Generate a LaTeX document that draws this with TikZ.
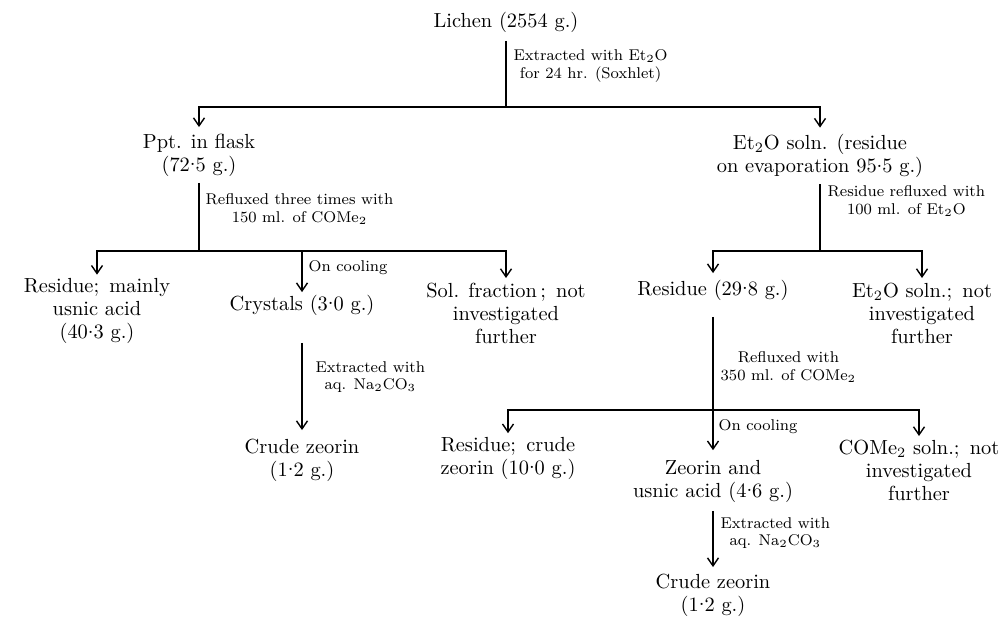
\documentclass[tikz,border=0pt]{standalone}
\usetikzlibrary{arrows.meta}
\tikzset{
  stage/.style={align=center, inner sep=0pt, font=\fontsize{10.2}{11.5}\selectfont},
  note/.style={align=center, inner sep=0pt, anchor=west, font=\fontsize{7.8}{8.6}\selectfont},
  flow/.style={-{Straight Barb[length=4pt,width=5.5pt]}, shorten >=3pt},
}
\newcommand{\sub}[1]{\textsubscript{#1}}
\newcommand{\decpt}{\raisebox{0.6ex}{.}}

\begin{document}
\begin{tikzpicture}[x=0.5pt, y=-0.5pt, line width=0.7pt]
        \useasboundingbox (0,0) rectangle (1004,617);
        % starting material and first split
        \node[stage] (lichen) at (506,22) {Lichen (2554 g.)};
        \node[stage] (ppt) at (199,155) {Ppt. in flask\\(72\decpt5 g.)};
        \node[stage] (ether) at (820,156) {Et\sub{2}O soln. (residue\\on evaporation 95\decpt5 g.)};
        \coordinate (split1) at (506,107);
        \draw[shorten <=4pt] (lichen) -- (split1);
        \draw[flow, shorten >=3pt] (split1) -| (ppt);
        \draw[flow, shorten >=3pt] (split1) -| (ether);
        \node[note] (soxhlet) at (513,66) {Extracted with Et\sub{2}O\\for 24 hr. (Soxhlet)};

        % left branch
        \node[stage] (usnic) at (97,311) {Residue;\enskip mainly\\usnic acid\\(40\decpt3 g.)};
        \node[stage] (cryst) at (302,305) {Crystals (3\decpt0 g.)};
        \node[stage] (solfr) at (506,313) {Sol. fraction\,;\enskip not\\investigated\\further};
        \coordinate (split2) at (199,251);
        \draw[shorten <=3pt] (ppt) -- (split2);
        \draw[flow, shorten >=1.5pt] (split2) -| (usnic);
        \draw[flow, shorten >=1pt] (split2) -| (cryst);
        \draw[flow, shorten >=2pt] (split2) -| (solfr);
        \node[note] (acetone1) at (205,209) {Refluxed three times with\\150 ml. of COMe\sub{2}};
        \node[note] (cool1) at (308,268) {On cooling};

        \node[stage] (crude1) at (302,460) {Crude zeorin\\(1\decpt2 g.)};
        \draw[flow, shorten <=13.5pt, shorten >=4pt] (cryst) -- (crude1);
        \node[note] (soda1) at (315,377) {Extracted with\\aq. Na\sub{2}CO\sub{3}};

        % right branch
        \node[stage] (resid) at (713,290) {Residue (29\decpt8 g.)};
        \node[stage] (ethrest) at (922,313) {Et\sub{2}O soln.;\enskip not\\investigated\\further};
        \coordinate (split3) at (820,251);
        \draw[shorten <=3pt] (ether) -- (split3);
        \draw[flow, shorten >=3pt] (split3) -| (resid);
        \draw[flow, shorten >=2pt] (split3) -| (ethrest);
        \node[note] (ether2) at (827,201) {Residue refluxed with\\100 ml. of Et\sub{2}O};

        \node[stage] (zcrude) at (508,458) {Residue;\enskip crude\\zeorin (10\decpt0 g.)};
        \node[stage] (zeorin) at (713,481) {Zeorin and\\usnic acid (4\decpt6 g.)};
        \node[stage] (acsol) at (919,470) {COMe\sub{2} soln.;\enskip not\\investigated\\further};
        \coordinate (split4) at (713,410);
        \draw[shorten <=8pt] (resid) -- (split4);
        \draw[flow, shorten >=1.5pt] (split4) -| (zcrude);
        \draw[flow, shorten >=4.5pt] (split4) -- (zeorin);
        \draw[flow, shorten >=1.5pt] (split4) -| (acsol);
        \node[note] (acetone2) at (720,367) {Refluxed with\\350 ml. of COMe\sub{2}};
        \node[note] (cool2) at (718,427) {On cooling};

        \node[stage] (crude2) at (713,595) {Crude zeorin\\(1\decpt2 g.)};
        \draw[flow, shorten <=4pt, shorten >=3pt] (zeorin) -- (crude2);
        \node[note] (soda2) at (720,533) {Extracted with\\aq. Na\sub{2}CO\sub{3}};
    \end{tikzpicture}
\end{document}
